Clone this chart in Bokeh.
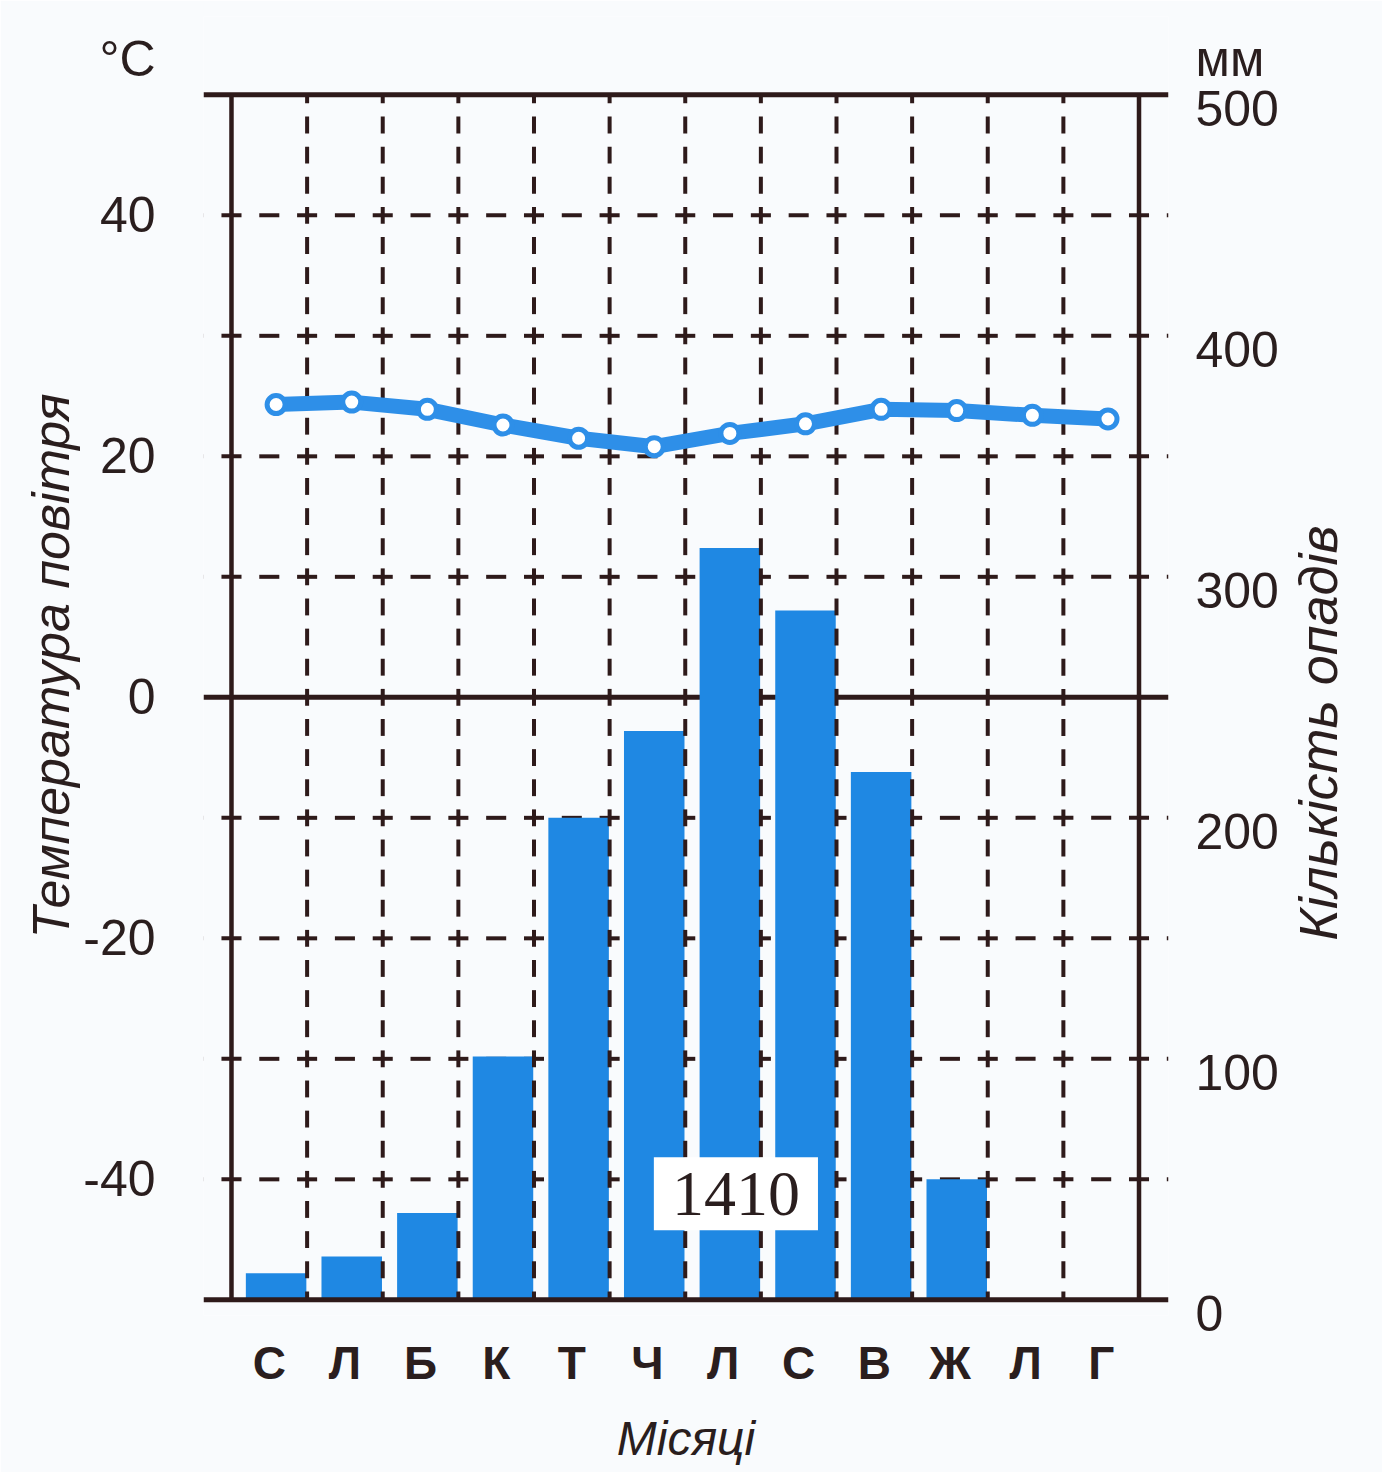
import numpy as np
from bokeh.plotting import figure
from bokeh.models import Range1d, LinearAxis, FixedTicker
from bokeh.embed import file_html
from bokeh.resources import INLINE

# ---------------- data ----------------
months = ["С", "Л", "Б", "К", "Т", "Ч", "Л", "С", "В", "Ж", "Л", "Г"]
temperature = [24.3, 24.5, 23.9, 22.6, 21.5, 20.8, 21.9, 22.7, 23.9, 23.8, 23.4, 23.1]
precipitation = [11, 18, 36, 101, 200, 236, 312, 286, 219, 50, 0, 0]
annual_total = "1410"
temp_ticks = [-40, -20, 0, 20, 40]
temp_tick_labels = ["-40", "-20", "0", "20", "40"]
precip_ticks = [0, 100, 200, 300, 400, 500]
temp_unit = "°C"
precip_unit = "мм"
temp_title = "Температура повітря"
precip_title = "Кількість опадів"
month_title = "Місяці"

# ---------------- style ----------------
BG = "#F9FBFD"
INK = "#2E1A1A"
TXT = "#2A1E1E"
BAR = "#1F88E3"
LINE = "#2E8FE8"
FONT = "Liberation Sans"

XMIN, XMAX = -0.37, 12.39      # frame x extent (month-index units)
TMIN, TMAX = -50, 50           # grid extent (deg C)
YLO, YHI = -51.3, 56.5         # frame y extent (deg C)
MM_PER_DEG = 5.0               # 0..500 mm  <->  -50..50 deg C
LABEL_SHIFT_MM = 6             # right labels sit a little below their lines
UNIT_Y = 53.0                  # height (deg C) of the unit captions
TITLE_Y = -20.2                # where the rotated right title starts


def mm(t):
    return (t - TMIN) * MM_PER_DEG


p = figure(width=1382, height=1472,
           x_range=Range1d(XMIN, XMAX), y_range=Range1d(YLO, YHI),
           output_backend="svg", toolbar_location=None,
           min_border_left=203, min_border_right=214,
           min_border_top=16, min_border_bottom=157)
p.extra_y_ranges = {"mm": Range1d(mm(YLO), mm(YHI))}
p.background_fill_color = BG
p.border_fill_color = BG
p.outline_line_color = None
p.grid.visible = False


def bare(ax):
    ax.axis_line_color = None
    ax.major_tick_line_color = None
    ax.minor_tick_line_color = None
    ax.major_tick_out = 0
    ax.major_tick_in = 0
    ax.major_label_text_font = FONT
    ax.major_label_text_color = TXT


# left axis (temperature) + unit caption as its top label
ya = p.yaxis[0]
bare(ya)
lt = [float(t) for t in temp_ticks] + [UNIT_Y]
ya.ticker = FixedTicker(ticks=lt)
ya.major_label_overrides = dict(zip(lt, temp_tick_labels + [temp_unit]))
ya.major_label_standoff = 48
ya.major_label_text_font_size = "50px"
ya.axis_label = temp_title
ya.axis_label_text_font = FONT
ya.axis_label_text_font_style = "italic"
ya.axis_label_text_font_size = "52px"
ya.axis_label_text_color = TXT
ya.axis_label_standoff = 0

# right axis (precipitation) + unit caption
rt = [float(v - LABEL_SHIFT_MM) for v in precip_ticks] + [mm(UNIT_Y)]
ra = LinearAxis(y_range_name="mm", ticker=FixedTicker(ticks=rt))
bare(ra)
ra.major_label_overrides = dict(zip(rt, [str(v) for v in precip_ticks] + [precip_unit]))
ra.major_label_standoff = 27
ra.major_label_text_font_size = "50px"
p.add_layout(ra, "right")

# outer right axis carrying the precipitation title (reads bottom-to-top)
ra2 = LinearAxis(ticker=FixedTicker(ticks=[TITLE_Y]))
bare(ra2)
ra2.major_label_overrides = {TITLE_Y: precip_title}
ra2.major_label_orientation = np.pi / 2
ra2.major_label_standoff = 37
ra2.major_label_text_font_size = "54px"
ra2.major_label_text_font_style = "italic"
p.add_layout(ra2, "right")

# bottom axis (months)
xa = p.xaxis[0]
bare(xa)
centers = [i + 0.5 for i in range(len(months))]
xa.ticker = FixedTicker(ticks=centers)
xa.major_label_overrides = dict(zip(centers, months))
xa.major_label_standoff = 21
xa.major_label_text_font_style = "bold"
xa.major_label_text_font_size = "46px"
xa.axis_label = month_title
xa.axis_label_text_font = FONT
xa.axis_label_text_font_style = "italic"
xa.axis_label_text_font_size = "48px"
xa.axis_label_text_color = TXT
xa.axis_label_standoff = 20

# ---------------- grid: horizontal dashed lines ----------------
h_levels = [-40, -30, -20, -10, 10, 20, 30, 40]
hc = np.arange(-1, 26) * 0.5
hh = 0.1325
hx0, hx1, hy = [], [], []
for lev in h_levels:
    for c in hc:
        a, b = max(c - hh, XMIN), min(c + hh, XMAX)
        if b > a:
            hx0.append(a); hx1.append(b); hy.append(lev)
p.segment(x0=hx0, y0=hy, x1=hx1, y1=hy, line_color=INK, line_width=4)

# zero line (under the bars)
p.segment(x0=[XMIN], y0=[0], x1=[XMAX], y1=[0], line_color=INK, line_width=5)

# ---------------- precipitation bars ----------------
xpos = np.arange(len(months)) + 0.59
p.vbar(x=xpos, top=precipitation, bottom=0, width=0.8, y_range_name="mm",
       fill_color=BAR, line_color=None)

# ---------------- grid: vertical dashed lines ----------------
vc = np.arange(-20, 21) * 2.5
vh = 0.7
vx, vy0, vy1 = [], [], []
for xv in range(1, 12):
    for c in vc:
        a, b = max(c - vh, TMIN), min(c + vh, TMAX)
        if b > a:
            vx.append(xv); vy0.append(a); vy1.append(b)
p.segment(x0=vx, y0=vy0, x1=vx, y1=vy1, line_color=INK, line_width=4)

# frame lines
p.segment(x0=[XMIN, XMIN], y0=[TMIN, TMAX], x1=[XMAX, XMAX], y1=[TMIN, TMAX],
          line_color=INK, line_width=5)
p.segment(x0=[0, 12], y0=[TMIN, TMIN], x1=[0, 12], y1=[TMAX, TMAX],
          line_color=INK, line_width=4.5)

# annual total box
BOX_X, BOX_Y = 6.67, -41.2
p.rect(x=[BOX_X], y=[BOX_Y], width=2.17, height=6.06, fill_color="white", line_color=None)
p.text(x=[BOX_X], y=[BOX_Y], text=[annual_total], text_align="center",
       text_baseline="middle", text_font={"value": "Liberation Serif"},
       text_font_size="64px", text_color=TXT)

# ---------------- temperature line ----------------
p.line(xpos, temperature, line_color=LINE, line_width=15, line_join="round", line_cap="round")
p.scatter(xpos, temperature, size=18, fill_color="white", line_color=LINE, line_width=5)

open("out.html", "w").write(file_html(p, INLINE))
